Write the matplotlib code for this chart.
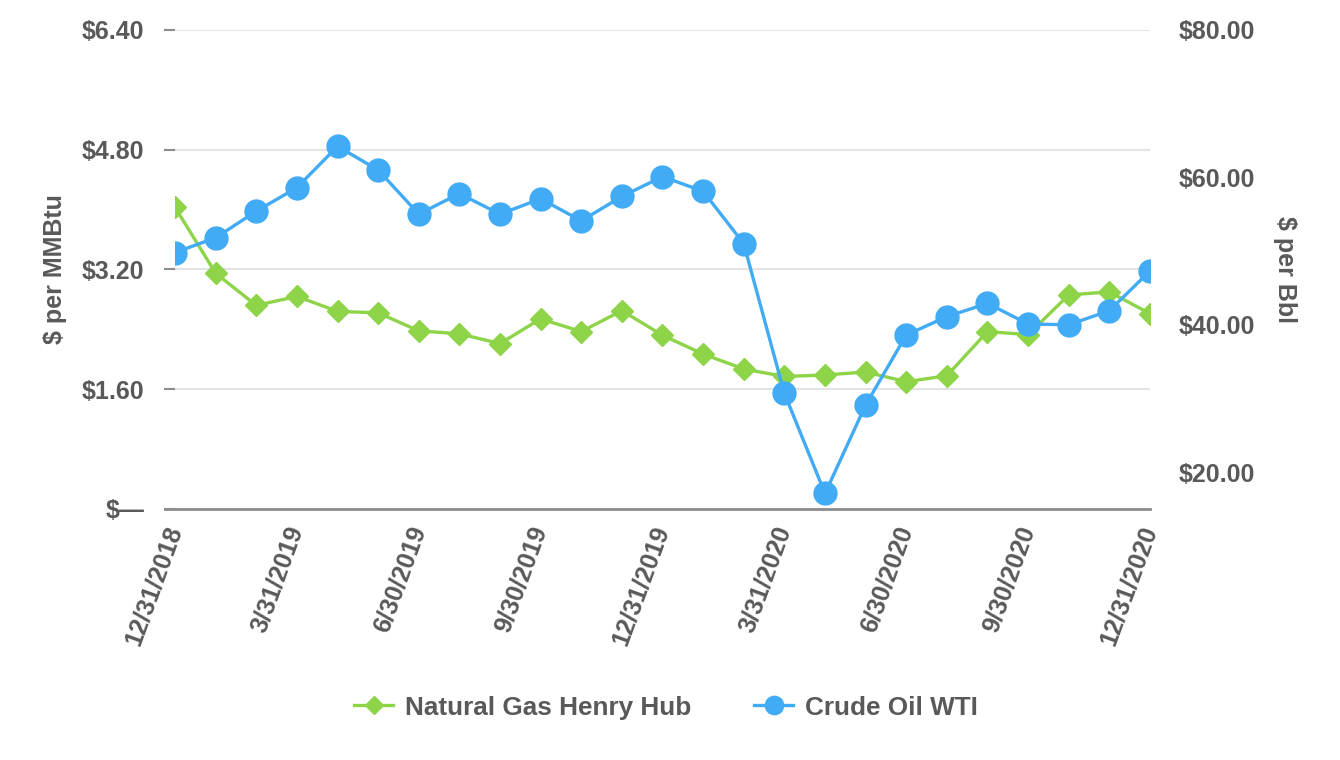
import matplotlib
matplotlib.use("Agg")
import matplotlib.pyplot as plt
from matplotlib.ticker import FuncFormatter

# monthly dates, labelled every quarter
dates = [
    "12/31/2018", "1/31/2019", "2/28/2019", "3/31/2019", "4/30/2019", "5/31/2019",
    "6/30/2019", "7/31/2019", "8/31/2019", "9/30/2019", "10/31/2019", "11/30/2019",
    "12/31/2019", "1/31/2020", "2/29/2020", "3/31/2020", "4/30/2020", "5/31/2020",
    "6/30/2020", "7/31/2020", "8/31/2020", "9/30/2020", "10/31/2020", "11/30/2020",
    "12/31/2020",
]
gas_henry_hub = [
    4.03, 3.15, 2.72, 2.84, 2.64, 2.62, 2.38, 2.34, 2.21, 2.54, 2.37, 2.65,
    2.32, 2.07, 1.87, 1.77, 1.79, 1.83, 1.70, 1.78, 2.37, 2.33, 2.86, 2.90, 2.61,
]
oil_wti = [
    49.8, 51.8, 55.4, 58.6, 64.2, 61.0, 55.0, 57.8, 55.0, 57.1, 54.1, 57.4,
    60.1, 58.1, 51.0, 30.7, 17.1, 29.1, 38.6, 41.1, 42.9, 40.1, 40.0, 41.9, 47.3,
]
left_ticks = [0, 1.6, 3.2, 4.8, 6.4]
right_ticks = [20, 40, 60, 80]

GREEN = "#8ED449"
BLUE = "#41ABF6"
TEXT = "#595959"

plt.rcParams["font.family"] = ["Liberation Sans", "DejaVu Sans"]
plt.rcParams["font.weight"] = "bold"

fig = plt.figure(figsize=(13.4, 7.6), dpi=100)
ax = fig.add_axes([0.1306, 0.3303, 0.7276, 0.6303])
ax2 = ax.twinx()

x = list(range(len(dates)))
ax.plot(x, gas_henry_hub, color=GREEN, lw=2.4, marker="D", ms=11.5,
        label="Natural Gas Henry Hub", zorder=3)
ax2.plot(x, oil_wti, color=BLUE, lw=2.4, marker="o", ms=16.5,
         label="Crude Oil WTI", zorder=3)

ax.set_xlim(0, len(dates) - 1)
ax.set_ylim(0, 6.4)
ax2.set_ylim(15, 80)

ax.set_yticks(left_ticks)
ax.yaxis.set_major_formatter(FuncFormatter(lambda v, p: "$\u2014" if v == 0 else f"${v:.2f}"))
ax2.set_yticks(right_ticks)
ax2.yaxis.set_major_formatter(FuncFormatter(lambda v, p: f"${v:.2f}"))

ax.set_xticks(x[::3])
ax.set_xticklabels(dates[::3], rotation=70, ha="right", va="center",
                   rotation_mode="anchor")

ax.grid(axis="y", color="#e3e3e3", lw=1.5)
ax.set_axisbelow(True)

for a in (ax, ax2):
    for side in ("top", "left", "right", "bottom"):
        a.spines[side].set_visible(False)
ax.axhline(0, xmin=-0.0105, xmax=1, color="#8c8c8c", lw=2, clip_on=False, zorder=2)

ax.tick_params(axis="y", length=8, width=1.5, color="#8c8c8c", pad=14,
               labelsize=18, labelcolor=TEXT)
ax.tick_params(axis="x", length=0, pad=13, labelsize=18, labelcolor=TEXT)
ax2.tick_params(axis="y", length=0, pad=21, labelsize=18, labelcolor=TEXT)

ax.set_ylabel("$ per MMBtu", fontsize=18, color=TEXT, fontweight="bold", labelpad=11)
ax2.set_ylabel("$ per Bbl", fontsize=18, color=TEXT, fontweight="bold",
               rotation=270, labelpad=30)

h1, l1 = ax.get_legend_handles_labels()
h2, l2 = ax2.get_legend_handles_labels()
leg = fig.legend(h1 + h2, l1 + l2, loc="center", bbox_to_anchor=(0.497, 0.069),
                 ncol=2, frameon=False, fontsize=18.8, handlelength=1.5,
                 columnspacing=2.4, handletextpad=0.45, markerscale=0.8)
for t in leg.get_texts():
    t.set_color(TEXT)

fig.savefig("out.png", dpi=100)
